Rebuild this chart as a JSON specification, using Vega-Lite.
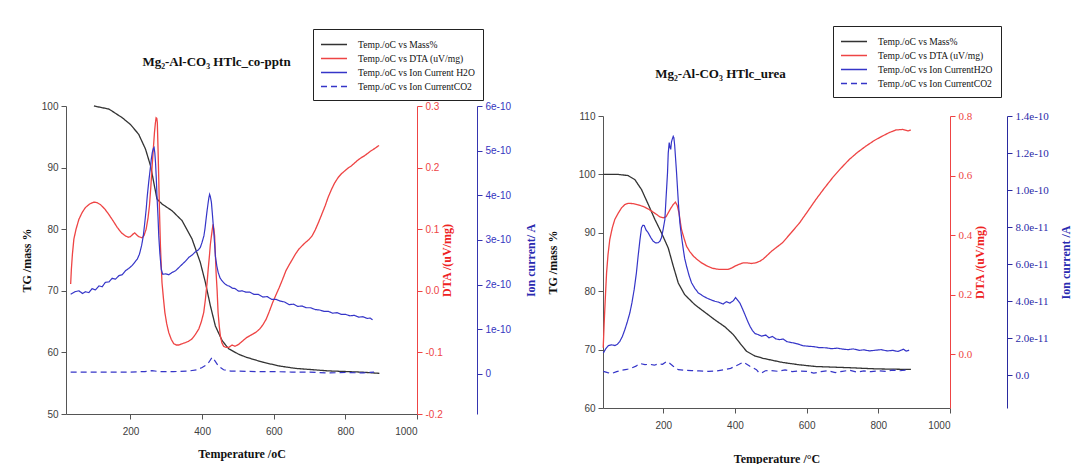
{
"$schema": "https://vega.github.io/schema/vega-lite/v6.json",
"background": "white",
"padding": {"left": 20, "top": 25, "right": 0, "bottom": 0},
"spacing": 9,
"config": {
 "view": {"stroke": null},
 "axis": {"grid": false, "labelFont": "Liberation Sans", "labelFontSize": 10, "labelColor": "#404040", "titleFont": "Liberation Serif", "titleFontSize": 12, "titleFontWeight": "bold", "titleColor": "#111111", "tickSize": 5, "labelPadding": 3, "domainColor": "#555555", "tickColor": "#555555"},
 "legend": {"title": null, "symbolType": "M-2,0H2", "symbolSize": 169, "symbolStrokeWidth": 1.5, "symbolOffset": 5.5, "labelOffset": 16.5, "labelFont": "Liberation Serif", "labelFontSize": 9.6, "labelColor": "#111111", "strokeColor": "#222222", "fillColor": "white", "padding": 8, "rowPadding": 1, "labelLimit": 300}
},
"datasets": {
 "L_tg": [
  {"s":"Temp./oC vs Mass%","T":98,"v":100},{"s":"Temp./oC vs Mass%","T":140,"v":99.5},{"s":"Temp./oC vs Mass%","T":177,"v":98.1},{"s":"Temp./oC vs Mass%","T":200,"v":97.0},{"s":"Temp./oC vs Mass%","T":223,"v":95.4},{"s":"Temp./oC vs Mass%","T":242,"v":93.0},{"s":"Temp./oC vs Mass%","T":256,"v":90.3},{"s":"Temp./oC vs Mass%","T":265,"v":87.6},{"s":"Temp./oC vs Mass%","T":274,"v":84.9},{"s":"Temp./oC vs Mass%","T":288,"v":84.1},{"s":"Temp./oC vs Mass%","T":316,"v":83.0},{"s":"Temp./oC vs Mass%","T":344,"v":81.4},{"s":"Temp./oC vs Mass%","T":372,"v":78.4},{"s":"Temp./oC vs Mass%","T":395,"v":74.6},{"s":"Temp./oC vs Mass%","T":409,"v":71.4},{"s":"Temp./oC vs Mass%","T":423,"v":67.6},{"s":"Temp./oC vs Mass%","T":437,"v":64.3},{"s":"Temp./oC vs Mass%","T":456,"v":61.9},{"s":"Temp./oC vs Mass%","T":474,"v":60.6},{"s":"Temp./oC vs Mass%","T":502,"v":59.7},{"s":"Temp./oC vs Mass%","T":524,"v":59.2},{"s":"Temp./oC vs Mass%","T":570,"v":58.4},{"s":"Temp./oC vs Mass%","T":615,"v":57.8},{"s":"Temp./oC vs Mass%","T":661,"v":57.4},{"s":"Temp./oC vs Mass%","T":752,"v":57.0},{"s":"Temp./oC vs Mass%","T":844,"v":56.8},{"s":"Temp./oC vs Mass%","T":895,"v":56.6}
 ],
 "L_dta": [
  {"s":"Temp./oC vs DTA (uV/mg)","T":33,"v":0.011},{"s":"Temp./oC vs DTA (uV/mg)","T":35,"v":0.035},{"s":"Temp./oC vs DTA (uV/mg)","T":38,"v":0.06},{"s":"Temp./oC vs DTA (uV/mg)","T":42,"v":0.084},{"s":"Temp./oC vs DTA (uV/mg)","T":48,"v":0.1},{"s":"Temp./oC vs DTA (uV/mg)","T":56,"v":0.116},{"s":"Temp./oC vs DTA (uV/mg)","T":65,"v":0.127},{"s":"Temp./oC vs DTA (uV/mg)","T":74,"v":0.135},{"s":"Temp./oC vs DTA (uV/mg)","T":86,"v":0.141},{"s":"Temp./oC vs DTA (uV/mg)","T":98,"v":0.144},{"s":"Temp./oC vs DTA (uV/mg)","T":107,"v":0.143},{"s":"Temp./oC vs DTA (uV/mg)","T":116,"v":0.14},{"s":"Temp./oC vs DTA (uV/mg)","T":128,"v":0.133},{"s":"Temp./oC vs DTA (uV/mg)","T":139.5,"v":0.124},{"s":"Temp./oC vs DTA (uV/mg)","T":151,"v":0.114},{"s":"Temp./oC vs DTA (uV/mg)","T":163,"v":0.103},{"s":"Temp./oC vs DTA (uV/mg)","T":175,"v":0.094},{"s":"Temp./oC vs DTA (uV/mg)","T":186,"v":0.089},{"s":"Temp./oC vs DTA (uV/mg)","T":194,"v":0.087},{"s":"Temp./oC vs DTA (uV/mg)","T":200,"v":0.088},{"s":"Temp./oC vs DTA (uV/mg)","T":207,"v":0.092},{"s":"Temp./oC vs DTA (uV/mg)","T":212,"v":0.094},{"s":"Temp./oC vs DTA (uV/mg)","T":217,"v":0.091},{"s":"Temp./oC vs DTA (uV/mg)","T":223,"v":0.088},{"s":"Temp./oC vs DTA (uV/mg)","T":232.5,"v":0.086},{"s":"Temp./oC vs DTA (uV/mg)","T":238,"v":0.09},{"s":"Temp./oC vs DTA (uV/mg)","T":243.7,"v":0.1},{"s":"Temp./oC vs DTA (uV/mg)","T":249,"v":0.118},{"s":"Temp./oC vs DTA (uV/mg)","T":253,"v":0.138},{"s":"Temp./oC vs DTA (uV/mg)","T":257,"v":0.17},{"s":"Temp./oC vs DTA (uV/mg)","T":260.5,"v":0.203},{"s":"Temp./oC vs DTA (uV/mg)","T":264,"v":0.232},{"s":"Temp./oC vs DTA (uV/mg)","T":267,"v":0.257},{"s":"Temp./oC vs DTA (uV/mg)","T":269.5,"v":0.272},{"s":"Temp./oC vs DTA (uV/mg)","T":271.6,"v":0.281},{"s":"Temp./oC vs DTA (uV/mg)","T":273.5,"v":0.28},{"s":"Temp./oC vs DTA (uV/mg)","T":275,"v":0.273},{"s":"Temp./oC vs DTA (uV/mg)","T":277,"v":0.23},{"s":"Temp./oC vs DTA (uV/mg)","T":279,"v":0.181},{"s":"Temp./oC vs DTA (uV/mg)","T":281,"v":0.13},{"s":"Temp./oC vs DTA (uV/mg)","T":283.7,"v":0.073},{"s":"Temp./oC vs DTA (uV/mg)","T":286,"v":0.04},{"s":"Temp./oC vs DTA (uV/mg)","T":288,"v":0.0135},{"s":"Temp./oC vs DTA (uV/mg)","T":292,"v":-0.012},{"s":"Temp./oC vs DTA (uV/mg)","T":296,"v":-0.035},{"s":"Temp./oC vs DTA (uV/mg)","T":301,"v":-0.053},{"s":"Temp./oC vs DTA (uV/mg)","T":307,"v":-0.068},{"s":"Temp./oC vs DTA (uV/mg)","T":314,"v":-0.079},{"s":"Temp./oC vs DTA (uV/mg)","T":321,"v":-0.086},{"s":"Temp./oC vs DTA (uV/mg)","T":328,"v":-0.088},{"s":"Temp./oC vs DTA (uV/mg)","T":335,"v":-0.088},{"s":"Temp./oC vs DTA (uV/mg)","T":344,"v":-0.086},{"s":"Temp./oC vs DTA (uV/mg)","T":353.5,"v":-0.084},{"s":"Temp./oC vs DTA (uV/mg)","T":362,"v":-0.082},{"s":"Temp./oC vs DTA (uV/mg)","T":372,"v":-0.078},{"s":"Temp./oC vs DTA (uV/mg)","T":381,"v":-0.071},{"s":"Temp./oC vs DTA (uV/mg)","T":390.7,"v":-0.062},{"s":"Temp./oC vs DTA (uV/mg)","T":398,"v":-0.05},{"s":"Temp./oC vs DTA (uV/mg)","T":404.6,"v":-0.035},{"s":"Temp./oC vs DTA (uV/mg)","T":409,"v":-0.015},{"s":"Temp./oC vs DTA (uV/mg)","T":414,"v":0.0135},{"s":"Temp./oC vs DTA (uV/mg)","T":417,"v":0.035},{"s":"Temp./oC vs DTA (uV/mg)","T":420.5,"v":0.057},{"s":"Temp./oC vs DTA (uV/mg)","T":423,"v":0.075},{"s":"Temp./oC vs DTA (uV/mg)","T":426,"v":0.089},{"s":"Temp./oC vs DTA (uV/mg)","T":428.5,"v":0.1},{"s":"Temp./oC vs DTA (uV/mg)","T":430.7,"v":0.108},{"s":"Temp./oC vs DTA (uV/mg)","T":433,"v":0.1},{"s":"Temp./oC vs DTA (uV/mg)","T":435,"v":0.089},{"s":"Temp./oC vs DTA (uV/mg)","T":437,"v":0.06},{"s":"Temp./oC vs DTA (uV/mg)","T":439,"v":0.03},{"s":"Temp./oC vs DTA (uV/mg)","T":442,"v":0.0},{"s":"Temp./oC vs DTA (uV/mg)","T":444.6,"v":-0.035},{"s":"Temp./oC vs DTA (uV/mg)","T":448,"v":-0.058},{"s":"Temp./oC vs DTA (uV/mg)","T":451,"v":-0.073},{"s":"Temp./oC vs DTA (uV/mg)","T":455,"v":-0.084},{"s":"Temp./oC vs DTA (uV/mg)","T":460,"v":-0.09},{"s":"Temp./oC vs DTA (uV/mg)","T":467,"v":-0.092},{"s":"Temp./oC vs DTA (uV/mg)","T":474,"v":-0.092},{"s":"Temp./oC vs DTA (uV/mg)","T":483.7,"v":-0.088},{"s":"Temp./oC vs DTA (uV/mg)","T":492,"v":-0.09},{"s":"Temp./oC vs DTA (uV/mg)","T":502,"v":-0.087},{"s":"Temp./oC vs DTA (uV/mg)","T":512,"v":-0.082},{"s":"Temp./oC vs DTA (uV/mg)","T":524,"v":-0.076},{"s":"Temp./oC vs DTA (uV/mg)","T":533,"v":-0.073},{"s":"Temp./oC vs DTA (uV/mg)","T":542.5,"v":-0.07},{"s":"Temp./oC vs DTA (uV/mg)","T":551,"v":-0.067},{"s":"Temp./oC vs DTA (uV/mg)","T":560.7,"v":-0.062},{"s":"Temp./oC vs DTA (uV/mg)","T":570,"v":-0.055},{"s":"Temp./oC vs DTA (uV/mg)","T":579,"v":-0.046},{"s":"Temp./oC vs DTA (uV/mg)","T":588,"v":-0.033},{"s":"Temp./oC vs DTA (uV/mg)","T":597,"v":-0.019},{"s":"Temp./oC vs DTA (uV/mg)","T":606,"v":-0.007},{"s":"Temp./oC vs DTA (uV/mg)","T":615.5,"v":0.0055},{"s":"Temp./oC vs DTA (uV/mg)","T":625,"v":0.019},{"s":"Temp./oC vs DTA (uV/mg)","T":634,"v":0.0325},{"s":"Temp./oC vs DTA (uV/mg)","T":643,"v":0.042},{"s":"Temp./oC vs DTA (uV/mg)","T":652,"v":0.051},{"s":"Temp./oC vs DTA (uV/mg)","T":661,"v":0.06},{"s":"Temp./oC vs DTA (uV/mg)","T":670,"v":0.0675},{"s":"Temp./oC vs DTA (uV/mg)","T":679,"v":0.073},{"s":"Temp./oC vs DTA (uV/mg)","T":688.6,"v":0.0785},{"s":"Temp./oC vs DTA (uV/mg)","T":698,"v":0.083},{"s":"Temp./oC vs DTA (uV/mg)","T":707,"v":0.089},{"s":"Temp./oC vs DTA (uV/mg)","T":716,"v":0.099},{"s":"Temp./oC vs DTA (uV/mg)","T":725,"v":0.111},{"s":"Temp./oC vs DTA (uV/mg)","T":734,"v":0.124},{"s":"Temp./oC vs DTA (uV/mg)","T":743.6,"v":0.138},{"s":"Temp./oC vs DTA (uV/mg)","T":752,"v":0.152},{"s":"Temp./oC vs DTA (uV/mg)","T":761.6,"v":0.165},{"s":"Temp./oC vs DTA (uV/mg)","T":770,"v":0.175},{"s":"Temp./oC vs DTA (uV/mg)","T":780,"v":0.184},{"s":"Temp./oC vs DTA (uV/mg)","T":789,"v":0.19},{"s":"Temp./oC vs DTA (uV/mg)","T":798,"v":0.1945},{"s":"Temp./oC vs DTA (uV/mg)","T":807,"v":0.199},{"s":"Temp./oC vs DTA (uV/mg)","T":816,"v":0.2025},{"s":"Temp./oC vs DTA (uV/mg)","T":825,"v":0.207},{"s":"Temp./oC vs DTA (uV/mg)","T":834.6,"v":0.212},{"s":"Temp./oC vs DTA (uV/mg)","T":844,"v":0.216},{"s":"Temp./oC vs DTA (uV/mg)","T":853,"v":0.219},{"s":"Temp./oC vs DTA (uV/mg)","T":862,"v":0.223},{"s":"Temp./oC vs DTA (uV/mg)","T":871,"v":0.227},{"s":"Temp./oC vs DTA (uV/mg)","T":882,"v":0.231},{"s":"Temp./oC vs DTA (uV/mg)","T":894,"v":0.236}
 ],
 "L_ion": [
  {"s":"Temp./oC vs Ion Current H2O","T":33,"v":1.785e-10},{"s":"Temp./oC vs Ion Current H2O","T":45,"v":1.84e-10},{"s":"Temp./oC vs Ion Current H2O","T":56,"v":1.86e-10},{"s":"Temp./oC vs Ion Current H2O","T":66,"v":1.80e-10},{"s":"Temp./oC vs Ion Current H2O","T":74,"v":1.84e-10},{"s":"Temp./oC vs Ion Current H2O","T":84,"v":1.82e-10},{"s":"Temp./oC vs Ion Current H2O","T":93,"v":1.91e-10},{"s":"Temp./oC vs Ion Current H2O","T":102,"v":1.88e-10},{"s":"Temp./oC vs Ion Current H2O","T":112,"v":1.97e-10},{"s":"Temp./oC vs Ion Current H2O","T":121,"v":1.95e-10},{"s":"Temp./oC vs Ion Current H2O","T":130,"v":2.05e-10},{"s":"Temp./oC vs Ion Current H2O","T":140,"v":2.06e-10},{"s":"Temp./oC vs Ion Current H2O","T":149,"v":2.14e-10},{"s":"Temp./oC vs Ion Current H2O","T":158,"v":2.12e-10},{"s":"Temp./oC vs Ion Current H2O","T":168,"v":2.2e-10},{"s":"Temp./oC vs Ion Current H2O","T":177,"v":2.22e-10},{"s":"Temp./oC vs Ion Current H2O","T":186,"v":2.31e-10},{"s":"Temp./oC vs Ion Current H2O","T":195,"v":2.36e-10},{"s":"Temp./oC vs Ion Current H2O","T":205,"v":2.43e-10},{"s":"Temp./oC vs Ion Current H2O","T":212,"v":2.5e-10},{"s":"Temp./oC vs Ion Current H2O","T":219,"v":2.57e-10},{"s":"Temp./oC vs Ion Current H2O","T":225,"v":2.68e-10},{"s":"Temp./oC vs Ion Current H2O","T":231,"v":2.87e-10},{"s":"Temp./oC vs Ion Current H2O","T":236,"v":3.1e-10},{"s":"Temp./oC vs Ion Current H2O","T":240,"v":3.39e-10},{"s":"Temp./oC vs Ion Current H2O","T":244,"v":3.7e-10},{"s":"Temp./oC vs Ion Current H2O","T":247,"v":3.99e-10},{"s":"Temp./oC vs Ion Current H2O","T":251,"v":4.3e-10},{"s":"Temp./oC vs Ion Current H2O","T":255,"v":4.58e-10},{"s":"Temp./oC vs Ion Current H2O","T":258,"v":4.8e-10},{"s":"Temp./oC vs Ion Current H2O","T":261,"v":4.96e-10},{"s":"Temp./oC vs Ion Current H2O","T":264,"v":5.05e-10},{"s":"Temp./oC vs Ion Current H2O","T":266,"v":5.07e-10},{"s":"Temp./oC vs Ion Current H2O","T":268,"v":4.95e-10},{"s":"Temp./oC vs Ion Current H2O","T":270,"v":4.73e-10},{"s":"Temp./oC vs Ion Current H2O","T":272,"v":4.4e-10},{"s":"Temp./oC vs Ion Current H2O","T":274,"v":3.99e-10},{"s":"Temp./oC vs Ion Current H2O","T":277,"v":3.5e-10},{"s":"Temp./oC vs Ion Current H2O","T":279,"v":3.09e-10},{"s":"Temp./oC vs Ion Current H2O","T":282,"v":2.7e-10},{"s":"Temp./oC vs Ion Current H2O","T":286,"v":2.34e-10},{"s":"Temp./oC vs Ion Current H2O","T":290,"v":2.23e-10},{"s":"Temp./oC vs Ion Current H2O","T":298,"v":2.24e-10},{"s":"Temp./oC vs Ion Current H2O","T":307,"v":2.22e-10},{"s":"Temp./oC vs Ion Current H2O","T":316,"v":2.27e-10},{"s":"Temp./oC vs Ion Current H2O","T":326,"v":2.31e-10},{"s":"Temp./oC vs Ion Current H2O","T":335,"v":2.38e-10},{"s":"Temp./oC vs Ion Current H2O","T":344,"v":2.45e-10},{"s":"Temp./oC vs Ion Current H2O","T":353,"v":2.52e-10},{"s":"Temp./oC vs Ion Current H2O","T":363,"v":2.61e-10},{"s":"Temp./oC vs Ion Current H2O","T":372,"v":2.66e-10},{"s":"Temp./oC vs Ion Current H2O","T":381,"v":2.73e-10},{"s":"Temp./oC vs Ion Current H2O","T":390,"v":2.78e-10},{"s":"Temp./oC vs Ion Current H2O","T":395,"v":2.83e-10},{"s":"Temp./oC vs Ion Current H2O","T":400,"v":2.95e-10},{"s":"Temp./oC vs Ion Current H2O","T":405,"v":3.09e-10},{"s":"Temp./oC vs Ion Current H2O","T":408,"v":3.25e-10},{"s":"Temp./oC vs Ion Current H2O","T":411,"v":3.46e-10},{"s":"Temp./oC vs Ion Current H2O","T":414,"v":3.66e-10},{"s":"Temp./oC vs Ion Current H2O","T":417,"v":3.84e-10},{"s":"Temp./oC vs Ion Current H2O","T":419,"v":3.95e-10},{"s":"Temp./oC vs Ion Current H2O","T":421,"v":4.02e-10},{"s":"Temp./oC vs Ion Current H2O","T":423,"v":3.97e-10},{"s":"Temp./oC vs Ion Current H2O","T":426,"v":3.84e-10},{"s":"Temp./oC vs Ion Current H2O","T":429,"v":3.55e-10},{"s":"Temp./oC vs Ion Current H2O","T":432,"v":3.24e-10},{"s":"Temp./oC vs Ion Current H2O","T":435,"v":2.9e-10},{"s":"Temp./oC vs Ion Current H2O","T":437,"v":2.64e-10},{"s":"Temp./oC vs Ion Current H2O","T":441,"v":2.42e-10},{"s":"Temp./oC vs Ion Current H2O","T":445,"v":2.27e-10},{"s":"Temp./oC vs Ion Current H2O","T":450,"v":2.15e-10},{"s":"Temp./oC vs Ion Current H2O","T":456,"v":2.08e-10},{"s":"Temp./oC vs Ion Current H2O","T":463,"v":2.02e-10},{"s":"Temp./oC vs Ion Current H2O","T":470,"v":1.98e-10},{"s":"Temp./oC vs Ion Current H2O","T":477,"v":1.96e-10},{"s":"Temp./oC vs Ion Current H2O","T":484,"v":1.92e-10},{"s":"Temp./oC vs Ion Current H2O","T":492,"v":1.91e-10},{"s":"Temp./oC vs Ion Current H2O","T":502,"v":1.85e-10},{"s":"Temp./oC vs Ion Current H2O","T":512,"v":1.86e-10},{"s":"Temp./oC vs Ion Current H2O","T":522,"v":1.83e-10},{"s":"Temp./oC vs Ion Current H2O","T":533,"v":1.83e-10},{"s":"Temp./oC vs Ion Current H2O","T":545,"v":1.78e-10},{"s":"Temp./oC vs Ion Current H2O","T":557,"v":1.78e-10},{"s":"Temp./oC vs Ion Current H2O","T":570,"v":1.72e-10},{"s":"Temp./oC vs Ion Current H2O","T":582,"v":1.73e-10},{"s":"Temp./oC vs Ion Current H2O","T":594,"v":1.67e-10},{"s":"Temp./oC vs Ion Current H2O","T":606,"v":1.67e-10},{"s":"Temp./oC vs Ion Current H2O","T":618,"v":1.63e-10},{"s":"Temp./oC vs Ion Current H2O","T":630,"v":1.61e-10},{"s":"Temp./oC vs Ion Current H2O","T":643,"v":1.55e-10},{"s":"Temp./oC vs Ion Current H2O","T":655,"v":1.56e-10},{"s":"Temp./oC vs Ion Current H2O","T":667,"v":1.51e-10},{"s":"Temp./oC vs Ion Current H2O","T":679,"v":1.52e-10},{"s":"Temp./oC vs Ion Current H2O","T":691,"v":1.48e-10},{"s":"Temp./oC vs Ion Current H2O","T":703,"v":1.48e-10},{"s":"Temp./oC vs Ion Current H2O","T":716,"v":1.44e-10},{"s":"Temp./oC vs Ion Current H2O","T":728,"v":1.43e-10},{"s":"Temp./oC vs Ion Current H2O","T":740,"v":1.40e-10},{"s":"Temp./oC vs Ion Current H2O","T":752,"v":1.40e-10},{"s":"Temp./oC vs Ion Current H2O","T":764,"v":1.36e-10},{"s":"Temp./oC vs Ion Current H2O","T":777,"v":1.37e-10},{"s":"Temp./oC vs Ion Current H2O","T":789,"v":1.33e-10},{"s":"Temp./oC vs Ion Current H2O","T":801,"v":1.33e-10},{"s":"Temp./oC vs Ion Current H2O","T":813,"v":1.30e-10},{"s":"Temp./oC vs Ion Current H2O","T":825,"v":1.31e-10},{"s":"Temp./oC vs Ion Current H2O","T":837,"v":1.27e-10},{"s":"Temp./oC vs Ion Current H2O","T":849,"v":1.28e-10},{"s":"Temp./oC vs Ion Current H2O","T":861,"v":1.24e-10},{"s":"Temp./oC vs Ion Current H2O","T":869,"v":1.25e-10},{"s":"Temp./oC vs Ion Current H2O","T":876,"v":1.21e-10},
  {"s":"Temp./oC vs Ion CurrentCO2","T":33,"v":0.04e-10},{"s":"Temp./oC vs Ion CurrentCO2","T":100,"v":0.04e-10},{"s":"Temp./oC vs Ion CurrentCO2","T":200,"v":0.04e-10},{"s":"Temp./oC vs Ion CurrentCO2","T":240,"v":0.05e-10},{"s":"Temp./oC vs Ion CurrentCO2","T":260,"v":0.07e-10},{"s":"Temp./oC vs Ion CurrentCO2","T":280,"v":0.05e-10},{"s":"Temp./oC vs Ion CurrentCO2","T":320,"v":0.05e-10},{"s":"Temp./oC vs Ion CurrentCO2","T":360,"v":0.06e-10},{"s":"Temp./oC vs Ion CurrentCO2","T":385,"v":0.09e-10},{"s":"Temp./oC vs Ion CurrentCO2","T":400,"v":0.14e-10},{"s":"Temp./oC vs Ion CurrentCO2","T":410,"v":0.19e-10},{"s":"Temp./oC vs Ion CurrentCO2","T":419,"v":0.26e-10},{"s":"Temp./oC vs Ion CurrentCO2","T":428,"v":0.37e-10},{"s":"Temp./oC vs Ion CurrentCO2","T":435,"v":0.3e-10},{"s":"Temp./oC vs Ion CurrentCO2","T":446,"v":0.17e-10},{"s":"Temp./oC vs Ion CurrentCO2","T":460,"v":0.09e-10},{"s":"Temp./oC vs Ion CurrentCO2","T":480,"v":0.06e-10},{"s":"Temp./oC vs Ion CurrentCO2","T":502,"v":0.06e-10},{"s":"Temp./oC vs Ion CurrentCO2","T":550,"v":0.05e-10},{"s":"Temp./oC vs Ion CurrentCO2","T":600,"v":0.05e-10},{"s":"Temp./oC vs Ion CurrentCO2","T":650,"v":0.04e-10},{"s":"Temp./oC vs Ion CurrentCO2","T":700,"v":0.04e-10},{"s":"Temp./oC vs Ion CurrentCO2","T":750,"v":0.02e-10},{"s":"Temp./oC vs Ion CurrentCO2","T":800,"v":0.03e-10},{"s":"Temp./oC vs Ion CurrentCO2","T":850,"v":0.02e-10},{"s":"Temp./oC vs Ion CurrentCO2","T":880,"v":0.04e-10}
 ],
 "R_tg": [
  {"s":"Temp./oC vs Mass%","T":33,"v":100},{"s":"Temp./oC vs Mass%","T":74,"v":100},{"s":"Temp./oC vs Mass%","T":102,"v":99.8},{"s":"Temp./oC vs Mass%","T":121,"v":99.1},{"s":"Temp./oC vs Mass%","T":139.5,"v":97.4},{"s":"Temp./oC vs Mass%","T":158,"v":94.9},{"s":"Temp./oC vs Mass%","T":176.7,"v":92.3},{"s":"Temp./oC vs Mass%","T":195,"v":90.0},{"s":"Temp./oC vs Mass%","T":214,"v":87.4},{"s":"Temp./oC vs Mass%","T":228,"v":84.3},{"s":"Temp./oC vs Mass%","T":242,"v":81.4},{"s":"Temp./oC vs Mass%","T":260,"v":79.4},{"s":"Temp./oC vs Mass%","T":288,"v":77.7},{"s":"Temp./oC vs Mass%","T":316,"v":76.4},{"s":"Temp./oC vs Mass%","T":344,"v":75.1},{"s":"Temp./oC vs Mass%","T":372,"v":73.9},{"s":"Temp./oC vs Mass%","T":395,"v":72.6},{"s":"Temp./oC vs Mass%","T":414,"v":71.1},{"s":"Temp./oC vs Mass%","T":432.5,"v":69.7},{"s":"Temp./oC vs Mass%","T":456,"v":68.9},{"s":"Temp./oC vs Mass%","T":479,"v":68.5},{"s":"Temp./oC vs Mass%","T":502,"v":68.2},{"s":"Temp./oC vs Mass%","T":533,"v":67.8},{"s":"Temp./oC vs Mass%","T":579.5,"v":67.4},{"s":"Temp./oC vs Mass%","T":626,"v":67.1},{"s":"Temp./oC vs Mass%","T":672.5,"v":67.0},{"s":"Temp./oC vs Mass%","T":719,"v":66.9},{"s":"Temp./oC vs Mass%","T":793,"v":66.7},{"s":"Temp./oC vs Mass%","T":891,"v":66.6}
 ],
 "R_dta": [
  {"s":"Temp./oC vs DTA (uV/mg)","T":32.6,"v":0.022},{"s":"Temp./oC vs DTA (uV/mg)","T":35.3,"v":0.105},{"s":"Temp./oC vs DTA (uV/mg)","T":38.5,"v":0.19},{"s":"Temp./oC vs DTA (uV/mg)","T":42,"v":0.274},{"s":"Temp./oC vs DTA (uV/mg)","T":46,"v":0.335},{"s":"Temp./oC vs DTA (uV/mg)","T":51,"v":0.386},{"s":"Temp./oC vs DTA (uV/mg)","T":58,"v":0.425},{"s":"Temp./oC vs DTA (uV/mg)","T":65,"v":0.453},{"s":"Temp./oC vs DTA (uV/mg)","T":75,"v":0.475},{"s":"Temp./oC vs DTA (uV/mg)","T":84,"v":0.492},{"s":"Temp./oC vs DTA (uV/mg)","T":93,"v":0.503},{"s":"Temp./oC vs DTA (uV/mg)","T":102,"v":0.507},{"s":"Temp./oC vs DTA (uV/mg)","T":115,"v":0.506},{"s":"Temp./oC vs DTA (uV/mg)","T":130,"v":0.502},{"s":"Temp./oC vs DTA (uV/mg)","T":145,"v":0.496},{"s":"Temp./oC vs DTA (uV/mg)","T":158,"v":0.488},{"s":"Temp./oC vs DTA (uV/mg)","T":170,"v":0.479},{"s":"Temp./oC vs DTA (uV/mg)","T":181,"v":0.47},{"s":"Temp./oC vs DTA (uV/mg)","T":190,"v":0.462},{"s":"Temp./oC vs DTA (uV/mg)","T":200,"v":0.458},{"s":"Temp./oC vs DTA (uV/mg)","T":208,"v":0.462},{"s":"Temp./oC vs DTA (uV/mg)","T":214,"v":0.475},{"s":"Temp./oC vs DTA (uV/mg)","T":221,"v":0.49},{"s":"Temp./oC vs DTA (uV/mg)","T":228,"v":0.503},{"s":"Temp./oC vs DTA (uV/mg)","T":234,"v":0.511},{"s":"Temp./oC vs DTA (uV/mg)","T":239,"v":0.5},{"s":"Temp./oC vs DTA (uV/mg)","T":244,"v":0.475},{"s":"Temp./oC vs DTA (uV/mg)","T":247,"v":0.45},{"s":"Temp./oC vs DTA (uV/mg)","T":251,"v":0.419},{"s":"Temp./oC vs DTA (uV/mg)","T":258,"v":0.39},{"s":"Temp./oC vs DTA (uV/mg)","T":265,"v":0.363},{"s":"Temp./oC vs DTA (uV/mg)","T":274,"v":0.345},{"s":"Temp./oC vs DTA (uV/mg)","T":284,"v":0.33},{"s":"Temp./oC vs DTA (uV/mg)","T":295,"v":0.318},{"s":"Temp./oC vs DTA (uV/mg)","T":307,"v":0.307},{"s":"Temp./oC vs DTA (uV/mg)","T":320,"v":0.298},{"s":"Temp./oC vs DTA (uV/mg)","T":335,"v":0.29},{"s":"Temp./oC vs DTA (uV/mg)","T":349,"v":0.286},{"s":"Temp./oC vs DTA (uV/mg)","T":363,"v":0.285},{"s":"Temp./oC vs DTA (uV/mg)","T":381,"v":0.285},{"s":"Temp./oC vs DTA (uV/mg)","T":391,"v":0.29},{"s":"Temp./oC vs DTA (uV/mg)","T":400,"v":0.296},{"s":"Temp./oC vs DTA (uV/mg)","T":411,"v":0.302},{"s":"Temp./oC vs DTA (uV/mg)","T":423,"v":0.307},{"s":"Temp./oC vs DTA (uV/mg)","T":435,"v":0.307},{"s":"Temp./oC vs DTA (uV/mg)","T":446,"v":0.305},{"s":"Temp./oC vs DTA (uV/mg)","T":458,"v":0.307},{"s":"Temp./oC vs DTA (uV/mg)","T":470,"v":0.313},{"s":"Temp./oC vs DTA (uV/mg)","T":479,"v":0.32},{"s":"Temp./oC vs DTA (uV/mg)","T":488,"v":0.33},{"s":"Temp./oC vs DTA (uV/mg)","T":502,"v":0.346},{"s":"Temp./oC vs DTA (uV/mg)","T":517,"v":0.36},{"s":"Temp./oC vs DTA (uV/mg)","T":533,"v":0.375},{"s":"Temp./oC vs DTA (uV/mg)","T":556,"v":0.407},{"s":"Temp./oC vs DTA (uV/mg)","T":579.5,"v":0.44},{"s":"Temp./oC vs DTA (uV/mg)","T":603,"v":0.48},{"s":"Temp./oC vs DTA (uV/mg)","T":626,"v":0.52},{"s":"Temp./oC vs DTA (uV/mg)","T":649,"v":0.557},{"s":"Temp./oC vs DTA (uV/mg)","T":672.5,"v":0.593},{"s":"Temp./oC vs DTA (uV/mg)","T":696,"v":0.625},{"s":"Temp./oC vs DTA (uV/mg)","T":719,"v":0.654},{"s":"Temp./oC vs DTA (uV/mg)","T":742,"v":0.678},{"s":"Temp./oC vs DTA (uV/mg)","T":765.5,"v":0.699},{"s":"Temp./oC vs DTA (uV/mg)","T":789,"v":0.718},{"s":"Temp./oC vs DTA (uV/mg)","T":812,"v":0.733},{"s":"Temp./oC vs DTA (uV/mg)","T":830,"v":0.744},{"s":"Temp./oC vs DTA (uV/mg)","T":849,"v":0.753},{"s":"Temp./oC vs DTA (uV/mg)","T":868,"v":0.755},{"s":"Temp./oC vs DTA (uV/mg)","T":882,"v":0.75},{"s":"Temp./oC vs DTA (uV/mg)","T":891,"v":0.753}
 ],
 "R_ion": [
  {"s":"Temp./oC vs Ion CurrentH2O","T":33,"v":1.21e-11},{"s":"Temp./oC vs Ion CurrentH2O","T":40,"v":1.45e-11},{"s":"Temp./oC vs Ion CurrentH2O","T":47,"v":1.61e-11},{"s":"Temp./oC vs Ion CurrentH2O","T":56,"v":1.65e-11},{"s":"Temp./oC vs Ion CurrentH2O","T":65,"v":1.61e-11},{"s":"Temp./oC vs Ion CurrentH2O","T":72,"v":1.68e-11},{"s":"Temp./oC vs Ion CurrentH2O","T":79,"v":1.84e-11},{"s":"Temp./oC vs Ion CurrentH2O","T":86,"v":2.1e-11},{"s":"Temp./oC vs Ion CurrentH2O","T":93,"v":2.47e-11},{"s":"Temp./oC vs Ion CurrentH2O","T":100,"v":2.9e-11},{"s":"Temp./oC vs Ion CurrentH2O","T":107,"v":3.38e-11},{"s":"Temp./oC vs Ion CurrentH2O","T":113,"v":3.95e-11},{"s":"Temp./oC vs Ion CurrentH2O","T":119,"v":4.64e-11},{"s":"Temp./oC vs Ion CurrentH2O","T":125,"v":5.5e-11},{"s":"Temp./oC vs Ion CurrentH2O","T":130,"v":6.44e-11},{"s":"Temp./oC vs Ion CurrentH2O","T":135,"v":7.3e-11},{"s":"Temp./oC vs Ion CurrentH2O","T":139.5,"v":7.97e-11},{"s":"Temp./oC vs Ion CurrentH2O","T":143,"v":8.1e-11},{"s":"Temp./oC vs Ion CurrentH2O","T":147,"v":8.09e-11},{"s":"Temp./oC vs Ion CurrentH2O","T":152,"v":7.85e-11},{"s":"Temp./oC vs Ion CurrentH2O","T":158,"v":7.7e-11},{"s":"Temp./oC vs Ion CurrentH2O","T":165,"v":7.45e-11},{"s":"Temp./oC vs Ion CurrentH2O","T":172,"v":7.24e-11},{"s":"Temp./oC vs Ion CurrentH2O","T":179,"v":7.15e-11},{"s":"Temp./oC vs Ion CurrentH2O","T":186,"v":7.16e-11},{"s":"Temp./oC vs Ion CurrentH2O","T":191,"v":7.25e-11},{"s":"Temp./oC vs Ion CurrentH2O","T":195,"v":7.43e-11},{"s":"Temp./oC vs Ion CurrentH2O","T":200,"v":7.9e-11},{"s":"Temp./oC vs Ion CurrentH2O","T":204.6,"v":8.42e-11},{"s":"Temp./oC vs Ion CurrentH2O","T":208,"v":9.6e-11},{"s":"Temp./oC vs Ion CurrentH2O","T":212,"v":10.94e-11},{"s":"Temp./oC vs Ion CurrentH2O","T":214,"v":12.0e-11},{"s":"Temp./oC vs Ion CurrentH2O","T":216.7,"v":12.56e-11},{"s":"Temp./oC vs Ion CurrentH2O","T":219,"v":12.3e-11},{"s":"Temp./oC vs Ion CurrentH2O","T":221,"v":12.2e-11},{"s":"Temp./oC vs Ion CurrentH2O","T":223,"v":12.6e-11},{"s":"Temp./oC vs Ion CurrentH2O","T":225,"v":12.74e-11},{"s":"Temp./oC vs Ion CurrentH2O","T":228,"v":12.9e-11},{"s":"Temp./oC vs Ion CurrentH2O","T":229.7,"v":12.83e-11},{"s":"Temp./oC vs Ion CurrentH2O","T":232,"v":12.4e-11},{"s":"Temp./oC vs Ion CurrentH2O","T":234,"v":11.84e-11},{"s":"Temp./oC vs Ion CurrentH2O","T":237,"v":11.0e-11},{"s":"Temp./oC vs Ion CurrentH2O","T":240,"v":10.04e-11},{"s":"Temp./oC vs Ion CurrentH2O","T":243,"v":9.1e-11},{"s":"Temp./oC vs Ion CurrentH2O","T":246.5,"v":8.23e-11},{"s":"Temp./oC vs Ion CurrentH2O","T":251,"v":7.5e-11},{"s":"Temp./oC vs Ion CurrentH2O","T":256,"v":6.8e-11},{"s":"Temp./oC vs Ion CurrentH2O","T":260,"v":6.3e-11},{"s":"Temp./oC vs Ion CurrentH2O","T":265,"v":5.9e-11},{"s":"Temp./oC vs Ion CurrentH2O","T":272,"v":5.4e-11},{"s":"Temp./oC vs Ion CurrentH2O","T":279,"v":5.0e-11},{"s":"Temp./oC vs Ion CurrentH2O","T":288,"v":4.7e-11},{"s":"Temp./oC vs Ion CurrentH2O","T":298,"v":4.45e-11},{"s":"Temp./oC vs Ion CurrentH2O","T":310,"v":4.3e-11},{"s":"Temp./oC vs Ion CurrentH2O","T":321,"v":4.18e-11},{"s":"Temp./oC vs Ion CurrentH2O","T":333,"v":4.08e-11},{"s":"Temp./oC vs Ion CurrentH2O","T":344,"v":4.0e-11},{"s":"Temp./oC vs Ion CurrentH2O","T":355,"v":3.95e-11},{"s":"Temp./oC vs Ion CurrentH2O","T":367,"v":3.85e-11},{"s":"Temp./oC vs Ion CurrentH2O","T":376,"v":3.98e-11},{"s":"Temp./oC vs Ion CurrentH2O","T":386,"v":3.9e-11},{"s":"Temp./oC vs Ion CurrentH2O","T":395,"v":4.02e-11},{"s":"Temp./oC vs Ion CurrentH2O","T":402,"v":4.2e-11},{"s":"Temp./oC vs Ion CurrentH2O","T":408,"v":4.05e-11},{"s":"Temp./oC vs Ion CurrentH2O","T":414,"v":3.9e-11},{"s":"Temp./oC vs Ion CurrentH2O","T":421,"v":3.6e-11},{"s":"Temp./oC vs Ion CurrentH2O","T":428,"v":3.28e-11},{"s":"Temp./oC vs Ion CurrentH2O","T":435,"v":2.95e-11},{"s":"Temp./oC vs Ion CurrentH2O","T":442,"v":2.65e-11},{"s":"Temp./oC vs Ion CurrentH2O","T":449,"v":2.42e-11},{"s":"Temp./oC vs Ion CurrentH2O","T":456,"v":2.26e-11},{"s":"Temp./oC vs Ion CurrentH2O","T":465,"v":2.2e-11},{"s":"Temp./oC vs Ion CurrentH2O","T":474,"v":2.12e-11},{"s":"Temp./oC vs Ion CurrentH2O","T":486,"v":2.18e-11},{"s":"Temp./oC vs Ion CurrentH2O","T":495,"v":2.03e-11},{"s":"Temp./oC vs Ion CurrentH2O","T":505,"v":2.1e-11},{"s":"Temp./oC vs Ion CurrentH2O","T":514,"v":1.97e-11},{"s":"Temp./oC vs Ion CurrentH2O","T":524,"v":1.93e-11},{"s":"Temp./oC vs Ion CurrentH2O","T":535,"v":1.96e-11},{"s":"Temp./oC vs Ion CurrentH2O","T":545,"v":1.82e-11},{"s":"Temp./oC vs Ion CurrentH2O","T":561,"v":1.76e-11},{"s":"Temp./oC vs Ion CurrentH2O","T":575,"v":1.7e-11},{"s":"Temp./oC vs Ion CurrentH2O","T":590,"v":1.6e-11},{"s":"Temp./oC vs Ion CurrentH2O","T":607,"v":1.57e-11},{"s":"Temp./oC vs Ion CurrentH2O","T":620,"v":1.55e-11},{"s":"Temp./oC vs Ion CurrentH2O","T":635,"v":1.5e-11},{"s":"Temp./oC vs Ion CurrentH2O","T":654,"v":1.49e-11},{"s":"Temp./oC vs Ion CurrentH2O","T":670,"v":1.44e-11},{"s":"Temp./oC vs Ion CurrentH2O","T":685,"v":1.47e-11},{"s":"Temp./oC vs Ion CurrentH2O","T":700,"v":1.42e-11},{"s":"Temp./oC vs Ion CurrentH2O","T":715,"v":1.39e-11},{"s":"Temp./oC vs Ion CurrentH2O","T":730,"v":1.43e-11},{"s":"Temp./oC vs Ion CurrentH2O","T":747,"v":1.35e-11},{"s":"Temp./oC vs Ion CurrentH2O","T":760,"v":1.38e-11},{"s":"Temp./oC vs Ion CurrentH2O","T":775,"v":1.32e-11},{"s":"Temp./oC vs Ion CurrentH2O","T":793,"v":1.36e-11},{"s":"Temp./oC vs Ion CurrentH2O","T":808,"v":1.39e-11},{"s":"Temp./oC vs Ion CurrentH2O","T":825,"v":1.32e-11},{"s":"Temp./oC vs Ion CurrentH2O","T":840,"v":1.35e-11},{"s":"Temp./oC vs Ion CurrentH2O","T":855,"v":1.29e-11},{"s":"Temp./oC vs Ion CurrentH2O","T":870,"v":1.41e-11},{"s":"Temp./oC vs Ion CurrentH2O","T":878,"v":1.31e-11},{"s":"Temp./oC vs Ion CurrentH2O","T":886,"v":1.36e-11},
  {"s":"Temp./oC vs Ion CurrentCO2","T":33,"v":0.22e-11},{"s":"Temp./oC vs Ion CurrentCO2","T":45,"v":0.15e-11},{"s":"Temp./oC vs Ion CurrentCO2","T":56,"v":0.1e-11},{"s":"Temp./oC vs Ion CurrentCO2","T":70,"v":0.2e-11},{"s":"Temp./oC vs Ion CurrentCO2","T":84,"v":0.28e-11},{"s":"Temp./oC vs Ion CurrentCO2","T":98,"v":0.32e-11},{"s":"Temp./oC vs Ion CurrentCO2","T":112,"v":0.4e-11},{"s":"Temp./oC vs Ion CurrentCO2","T":124,"v":0.5e-11},{"s":"Temp./oC vs Ion CurrentCO2","T":135,"v":0.64e-11},{"s":"Temp./oC vs Ion CurrentCO2","T":149,"v":0.58e-11},{"s":"Temp./oC vs Ion CurrentCO2","T":163,"v":0.6e-11},{"s":"Temp./oC vs Ion CurrentCO2","T":175,"v":0.55e-11},{"s":"Temp./oC vs Ion CurrentCO2","T":186,"v":0.62e-11},{"s":"Temp./oC vs Ion CurrentCO2","T":198,"v":0.6e-11},{"s":"Temp./oC vs Ion CurrentCO2","T":209,"v":0.75e-11},{"s":"Temp./oC vs Ion CurrentCO2","T":218,"v":0.65e-11},{"s":"Temp./oC vs Ion CurrentCO2","T":228,"v":0.49e-11},{"s":"Temp./oC vs Ion CurrentCO2","T":242,"v":0.31e-11},{"s":"Temp./oC vs Ion CurrentCO2","T":260,"v":0.28e-11},{"s":"Temp./oC vs Ion CurrentCO2","T":279,"v":0.26e-11},{"s":"Temp./oC vs Ion CurrentCO2","T":300,"v":0.24e-11},{"s":"Temp./oC vs Ion CurrentCO2","T":326,"v":0.22e-11},{"s":"Temp./oC vs Ion CurrentCO2","T":350,"v":0.24e-11},{"s":"Temp./oC vs Ion CurrentCO2","T":372,"v":0.31e-11},{"s":"Temp./oC vs Ion CurrentCO2","T":388,"v":0.38e-11},{"s":"Temp./oC vs Ion CurrentCO2","T":400,"v":0.49e-11},{"s":"Temp./oC vs Ion CurrentCO2","T":412,"v":0.6e-11},{"s":"Temp./oC vs Ion CurrentCO2","T":423,"v":0.71e-11},{"s":"Temp./oC vs Ion CurrentCO2","T":432,"v":0.62e-11},{"s":"Temp./oC vs Ion CurrentCO2","T":442,"v":0.49e-11},{"s":"Temp./oC vs Ion CurrentCO2","T":451,"v":0.4e-11},{"s":"Temp./oC vs Ion CurrentCO2","T":460,"v":0.31e-11},{"s":"Temp./oC vs Ion CurrentCO2","T":467,"v":0.15e-11},{"s":"Temp./oC vs Ion CurrentCO2","T":474,"v":0.13e-11},{"s":"Temp./oC vs Ion CurrentCO2","T":485,"v":0.25e-11},{"s":"Temp./oC vs Ion CurrentCO2","T":502,"v":0.26e-11},{"s":"Temp./oC vs Ion CurrentCO2","T":520,"v":0.22e-11},{"s":"Temp./oC vs Ion CurrentCO2","T":540,"v":0.3e-11},{"s":"Temp./oC vs Ion CurrentCO2","T":560,"v":0.2e-11},{"s":"Temp./oC vs Ion CurrentCO2","T":580,"v":0.24e-11},{"s":"Temp./oC vs Ion CurrentCO2","T":600,"v":0.22e-11},{"s":"Temp./oC vs Ion CurrentCO2","T":620,"v":0.12e-11},{"s":"Temp./oC vs Ion CurrentCO2","T":640,"v":0.2e-11},{"s":"Temp./oC vs Ion CurrentCO2","T":660,"v":0.25e-11},{"s":"Temp./oC vs Ion CurrentCO2","T":680,"v":0.15e-11},{"s":"Temp./oC vs Ion CurrentCO2","T":700,"v":0.22e-11},{"s":"Temp./oC vs Ion CurrentCO2","T":720,"v":0.28e-11},{"s":"Temp./oC vs Ion CurrentCO2","T":740,"v":0.18e-11},{"s":"Temp./oC vs Ion CurrentCO2","T":760,"v":0.24e-11},{"s":"Temp./oC vs Ion CurrentCO2","T":780,"v":0.2e-11},{"s":"Temp./oC vs Ion CurrentCO2","T":800,"v":0.25e-11},{"s":"Temp./oC vs Ion CurrentCO2","T":820,"v":0.22e-11},{"s":"Temp./oC vs Ion CurrentCO2","T":840,"v":0.28e-11},{"s":"Temp./oC vs Ion CurrentCO2","T":860,"v":0.25e-11},{"s":"Temp./oC vs Ion CurrentCO2","T":886,"v":0.3e-11}
 ]
},
"resolve": {"scale": {"color": "independent", "strokeDash": "independent"}, "legend": {"color": "independent", "strokeDash": "independent"}},
"hconcat": [
 {
  "width": 351, "height": 308,
  "title": {"text": "Mg₂-Al-CO₃ HTlc_co-pptn", "frame": "group", "dx": -25, "offset": -40, "font": "Liberation Serif", "fontSize": 13, "fontWeight": "bold", "color": "#111111"},
  "resolve": {"scale": {"y": "independent"}},
  "layer": [
   {"data": {"name": "L_tg"}, "mark": {"type": "line", "strokeWidth": 1.3},
    "encoding": {
     "x": {"field": "T", "type": "quantitative", "scale": {"domain": [20, 1000], "nice": false, "zero": false}, "axis": {"values": [200, 400, 600, 800, 1000], "format": "d", "labelPadding": 7, "title": "Temperature /oC", "titlePadding": 12}},
     "y": {"field": "v", "type": "quantitative", "scale": {"domain": [50, 100], "nice": false, "zero": false}, "axis": {"orient": "left", "values": [50, 60, 70, 80, 90, 100], "title": "TG /mass %", "titlePadding": 8}},
     "color": {"field": "s", "type": "nominal", "scale": {"domain": ["Temp./oC vs Mass%", "Temp./oC vs DTA (uV/mg)", "Temp./oC vs Ion Current H2O", "Temp./oC vs Ion CurrentCO2"], "range": ["#333333", "#ee4444", "#3535c8", "#3535c8"]}, "legend": {"orient": "none", "legendX": 247, "legendY": -77}},
     "strokeDash": {"field": "s", "type": "nominal", "scale": {"domain": ["Temp./oC vs Mass%", "Temp./oC vs DTA (uV/mg)", "Temp./oC vs Ion Current H2O", "Temp./oC vs Ion CurrentCO2"], "range": [[1, 0], [1, 0], [1, 0], [6, 4]]}, "legend": {"orient": "none", "legendX": 247, "legendY": -77}}
    }},
   {"data": {"name": "L_dta"}, "mark": {"type": "line", "strokeWidth": 1.3},
    "encoding": {
     "x": {"field": "T", "type": "quantitative", "scale": {"domain": [20, 1000], "nice": false, "zero": false}},
     "y": {"field": "v", "type": "quantitative", "scale": {"domain": [-0.2, 0.3], "nice": false, "zero": false}, "axis": {"orient": "right", "values": [-0.2, -0.1, 0, 0.1, 0.2, 0.3], "labelExpr": "replace(format(datum.value, '.1f'), '−', '-')", "title": "DTA /(uV/mg)", "titleAngle": 270, "titleBaseline": "top", "titlePadding": -1, "domainColor": "#ee4444", "tickColor": "#ee4444", "labelColor": "#ee4444", "titleColor": "#ee2222"}},
     "color": {"field": "s", "type": "nominal", "legend": {"orient": "none", "legendX": 247, "legendY": -77}},
     "strokeDash": {"field": "s", "type": "nominal", "legend": {"orient": "none", "legendX": 247, "legendY": -77}}
    }},
   {"data": {"name": "L_ion"}, "mark": {"type": "line", "strokeWidth": 1.2},
    "encoding": {
     "x": {"field": "T", "type": "quantitative", "scale": {"domain": [20, 1000], "nice": false, "zero": false}},
     "y": {"field": "v", "type": "quantitative", "scale": {"domain": [-0.9e-10, 6e-10], "nice": false, "zero": false}, "axis": {"orient": "right", "offset": 60, "values": [0, 1e-10, 2e-10, 3e-10, 4e-10, 5e-10, 6e-10], "labelExpr": "datum.value == 0 ? '0' : format(datum.value, '.0e')", "title": "Ion current/ A", "titleAngle": 270, "titleBaseline": "top", "titlePadding": 15, "domainColor": "#3535b0", "tickColor": "#3535b0", "labelColor": "#3535c0", "titleColor": "#2a2ab0"}},
     "color": {"field": "s", "type": "nominal", "legend": {"orient": "none", "legendX": 247, "legendY": -77}},
     "strokeDash": {"field": "s", "type": "nominal", "legend": {"orient": "none", "legendX": 247, "legendY": -77}}
    }}
  ]
 },
 {
  "width": 347, "height": 302,
  "title": {"text": "Mg₂-Al-CO₃ HTlc_urea", "frame": "group", "dx": -56, "offset": -55, "font": "Liberation Serif", "fontSize": 13, "fontWeight": "bold", "color": "#111111"},
  "resolve": {"scale": {"y": "independent"}},
  "layer": [
   {"data": {"name": "R_tg"}, "mark": {"type": "line", "strokeWidth": 1.3},
    "encoding": {
     "x": {"field": "T", "type": "quantitative", "scale": {"domain": [32, 1000], "nice": false, "zero": false}, "axis": {"values": [200, 400, 600, 800, 1000], "format": "d", "labelPadding": 7, "title": "Temperature /°C", "titlePadding": 23}},
     "y": {"field": "v", "type": "quantitative", "scale": {"domain": [60, 110], "nice": false, "zero": false, "range": [302, 10]}, "axis": {"orient": "left", "values": [60, 70, 80, 90, 100, 110], "title": "TG /mass %", "titlePadding": 19}},
     "color": {"field": "s", "type": "nominal", "scale": {"domain": ["Temp./oC vs Mass%", "Temp./oC vs DTA (uV/mg)", "Temp./oC vs Ion CurrentH2O", "Temp./oC vs Ion CurrentCO2"], "range": ["#333333", "#ee4444", "#3535c8", "#3535c8"]}, "legend": {"orient": "none", "legendX": 230, "legendY": -80}},
     "strokeDash": {"field": "s", "type": "nominal", "scale": {"domain": ["Temp./oC vs Mass%", "Temp./oC vs DTA (uV/mg)", "Temp./oC vs Ion CurrentH2O", "Temp./oC vs Ion CurrentCO2"], "range": [[1, 0], [1, 0], [1, 0], [6, 4]]}, "legend": {"orient": "none", "legendX": 230, "legendY": -80}}
    }},
   {"data": {"name": "R_dta"}, "mark": {"type": "line", "strokeWidth": 1.3},
    "encoding": {
     "x": {"field": "T", "type": "quantitative", "scale": {"domain": [32, 1000], "nice": false, "zero": false}},
     "y": {"field": "v", "type": "quantitative", "scale": {"domain": [-0.18, 0.8], "nice": false, "zero": false, "range": [302, 10]}, "axis": {"orient": "right", "values": [0, 0.2, 0.4, 0.6, 0.8], "labelExpr": "format(datum.value, '.1f')", "labelFont": "Liberation Serif", "labelFontSize": 11, "title": "DTA /(uV/mg)", "titleAngle": 270, "titleBaseline": "top", "titlePadding": 3, "domainColor": "#ee4444", "tickColor": "#ee4444", "labelColor": "#ee4444", "titleColor": "#ee2222"}},
     "color": {"field": "s", "type": "nominal", "legend": {"orient": "none", "legendX": 230, "legendY": -80}},
     "strokeDash": {"field": "s", "type": "nominal", "legend": {"orient": "none", "legendX": 230, "legendY": -80}}
    }},
   {"data": {"name": "R_ion"}, "mark": {"type": "line", "strokeWidth": 1.2},
    "encoding": {
     "x": {"field": "T", "type": "quantitative", "scale": {"domain": [32, 1000], "nice": false, "zero": false}},
     "y": {"field": "v", "type": "quantitative", "scale": {"domain": [-1.76e-11, 1.4e-10], "nice": false, "zero": false, "range": [302, 10]}, "axis": {"orient": "right", "offset": 57, "values": [0, 2e-11, 4e-11, 6e-11, 8e-11, 1e-10, 1.2e-10, 1.4e-10], "labelExpr": "datum.value == 0 ? '0.0' : format(datum.value, '.1e')", "labelFont": "Liberation Serif", "labelFontSize": 11, "title": "Ion current /A", "titleAngle": 270, "titleBaseline": "top", "titlePadding": 12, "domainColor": "#2a2aa0", "tickColor": "#2a2aa0", "labelColor": "#2a2aa8", "titleColor": "#2a2ab0"}},
     "color": {"field": "s", "type": "nominal", "legend": {"orient": "none", "legendX": 230, "legendY": -80}},
     "strokeDash": {"field": "s", "type": "nominal", "legend": {"orient": "none", "legendX": 230, "legendY": -80}}
    }}
  ]
 }
]
}
